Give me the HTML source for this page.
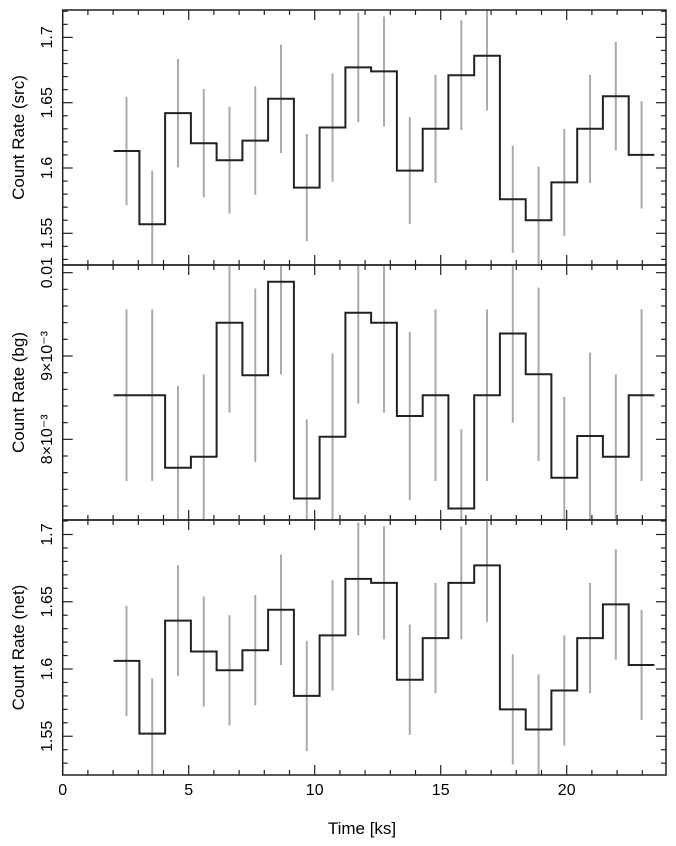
<!DOCTYPE html>
<html><head><meta charset="utf-8"><style>
html,body{margin:0;padding:0;background:#fff;}
svg{display:block;font-family:"Liberation Sans",Arial,sans-serif;}
</style></head><body>
<svg id="chart" width="676" height="846" viewBox="0 0 676 846" xmlns="http://www.w3.org/2000/svg">
<defs>
<clipPath id="c0"><rect x="63" y="10" width="603" height="255"/></clipPath>
<clipPath id="c1"><rect x="63" y="265" width="603" height="255"/></clipPath>
<clipPath id="c2"><rect x="63" y="520" width="603" height="255"/></clipPath>
</defs>
<g id="layer"></g>
<text x="362" y="834" font-size="17" text-anchor="middle">Time [ks]</text>
</svg>
<script>
const binStart = 2.02;
const binWidth = 1.022;
const srcRate = [1.613,1.557,1.642,1.619,1.606,1.621,1.653,1.585,1.631,1.677,1.674,1.598,1.630,1.671,1.686,1.576,1.560,1.589,1.630,1.655,1.610];
const srcErr = [0.0415,0.041,0.0415,0.0415,0.041,0.0415,0.0415,0.041,0.0415,0.042,0.042,0.041,0.0415,0.042,0.042,0.041,0.041,0.041,0.0415,0.0415,0.041];
const bgRate = [8.53e-3,8.53e-3,7.66e-3,7.79e-3,9.40e-3,8.77e-3,9.89e-3,7.29e-3,8.03e-3,9.52e-3,9.40e-3,8.28e-3,8.53e-3,7.17e-3,8.53e-3,9.27e-3,8.78e-3,7.54e-3,8.04e-3,7.79e-3,8.53e-3];
const bgErr = [1.03e-3,1.03e-3,0.98e-3,0.99e-3,1.08e-3,1.04e-3,1.11e-3,0.95e-3,1.0e-3,1.09e-3,1.08e-3,1.01e-3,1.03e-3,0.95e-3,1.03e-3,1.07e-3,1.04e-3,0.97e-3,1.0e-3,0.99e-3,1.03e-3];
const netRate = [1.606,1.552,1.636,1.613,1.599,1.614,1.644,1.580,1.625,1.667,1.664,1.592,1.623,1.664,1.677,1.570,1.555,1.584,1.623,1.648,1.603];
const netErr = [0.041,0.041,0.041,0.041,0.041,0.041,0.041,0.041,0.041,0.042,0.042,0.041,0.041,0.042,0.042,0.041,0.041,0.041,0.041,0.041,0.041];
const xTicks = [0,5,10,15,20];
const srcTicks = [1.55,1.6,1.65,1.7];
const srcTickLabels = ["1.55","1.6","1.65","1.7"];
const bgTicks = [0.008,0.009,0.01];
const bgTickLabels = ["8×10⁻³","9×10⁻³","0.01"];
const netTicks = [1.55,1.6,1.65,1.7];
const netTickLabels = ["1.55","1.6","1.65","1.7"];

const NS="http://www.w3.org/2000/svg";
const layer=document.getElementById('layer');
const X0=62.7, XS=25.2, XR=666;
function xs(t){return X0+XS*t;}
function mk(tag,attrs,parent){const e=document.createElementNS(NS,tag);for(const k in attrs)e.setAttribute(k,attrs[k]);(parent||layer).appendChild(e);return e;}

const panels=[
 {name:'src',top:10,bot:265,ref:1.6,refY:168,scale:1306,rate:srcRate,err:srcErr,ticks:srcTicks,labels:srcTickLabels,minor:0.01,lo:1.52,hi:1.73,title:'Count Rate (src)',clip:'c0'},
 {name:'bg',top:265,bot:520,ref:0.009,refY:356,scale:83333,rate:bgRate,err:bgErr,ticks:bgTicks,labels:bgTickLabels,minor:0.0002,lo:0.0069,hi:0.0102,title:'Count Rate (bg)',clip:'c1'},
 {name:'net',top:520,bot:775,ref:1.6,refY:669,scale:1345,rate:netRate,err:netErr,ticks:netTicks,labels:netTickLabels,minor:0.01,lo:1.51,hi:1.72,title:'Count Rate (net)',clip:'c2'}
];

panels.forEach(p=>{
 const ys=v=>p.refY-(v-p.ref)*p.scale;
 const g=mk('g',{});
 
 
 // error bars
 const eg=mk('g',{'clip-path':'url(#'+p.clip+')'},g);
 
 
 p.rate.forEach((v,i)=>{
  const c=binStart+(i+0.5)*binWidth;
  const l=mk('line',{x1:xs(c),x2:xs(c),y1:ys(v-p.err[i]),y2:ys(v+p.err[i]),stroke:'#aaa','stroke-width':2},eg);
  
  
 });
 // step line
 let d='';
 p.rate.forEach((v,i)=>{
  const a=xs(binStart+i*binWidth), b=xs(binStart+(i+1)*binWidth);
  d+=(i===0?'M':'L')+a.toFixed(1)+' '+ys(v).toFixed(1)+' L'+b.toFixed(1)+' '+ys(v).toFixed(1)+' ';
 });
 const path=mk('path',{d:d,fill:'none',stroke:'#222','stroke-width':2,'clip-path':'url(#'+p.clip+')'},g);
 
 
 // frame
 const fr=mk('rect',{x:X0,y:p.top,width:XR-X0,height:p.bot-p.top,fill:'none',stroke:'#222','stroke-width':1.5},g);
 
 
 // x ticks
 for(let t=0;t<=23;t++){
  const major=xTicks.includes(t), len=major?10:5, x=xs(t);
  mk('line',{x1:x,x2:x,y1:p.top,y2:p.top+len,stroke:'#222','stroke-width':1.2},g);
  mk('line',{x1:x,x2:x,y1:p.bot,y2:p.bot-len,stroke:'#222','stroke-width':1.2},g);
 }
 // y minor ticks
 const n0=Math.ceil(p.lo/p.minor), n1=Math.floor(p.hi/p.minor);
 for(let n=n0;n<=n1;n++){
  const v=n*p.minor, y=ys(v);
  if(y<p.top+0.5||y>p.bot-0.5)continue;
  const major=p.ticks.some(t=>Math.abs(t-v)<p.minor*0.1), len=major?10:5;
  mk('line',{x1:X0,x2:X0+len,y1:y,y2:y,stroke:'#222','stroke-width':1.2},g);
  mk('line',{x1:XR,x2:XR-len,y1:y,y2:y,stroke:'#222','stroke-width':1.2},g);
 }
 // tick labels
 p.ticks.forEach((v,i)=>{
  const y=ys(v);
  const t=mk('text',{x:0,y:0,'font-size':16,'text-anchor':'middle',transform:'translate(52,'+y.toFixed(1)+') rotate(-90)'},g);
  
  
  t.textContent=p.labels[i];
 });
 const tt=mk('text',{x:0,y:0,'font-size':17,'text-anchor':'middle',transform:'translate(24,'+((p.top+p.bot)/2)+') rotate(-90)'},g);
 
 
 tt.textContent=p.title;
});
// x tick labels
xTicks.forEach(t=>{
 const e=mk('text',{x:xs(t),y:795,'font-size':16,'text-anchor':'middle'});
 
 
 e.textContent=String(t);
});
</script>
</body></html>
